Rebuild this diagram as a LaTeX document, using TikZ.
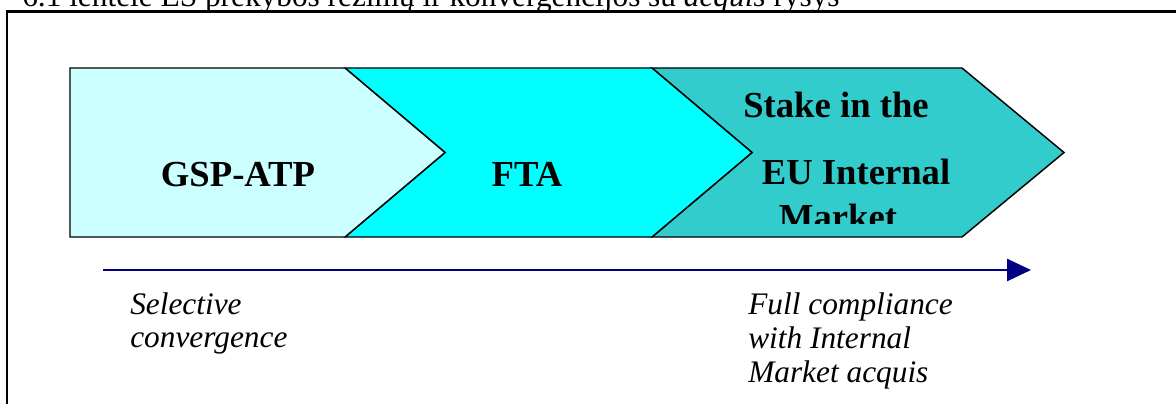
\documentclass[tikz,border=0pt]{standalone}
\usepackage{fontspec}
\setmainfont{Liberation Serif}
\usetikzlibrary{arrows.meta}
\definecolor{lightcy}{HTML}{CCFFFF}
\definecolor{brightcy}{HTML}{00FFFF}
\definecolor{tealcy}{HTML}{33CCCC}
\definecolor{navyarrow}{HTML}{000080}
\begin{document}
\begin{tikzpicture}[x=0.75pt,y=-0.75pt,
  chev/.style={draw=black, line width=1.1pt, line join=miter},
  boldlbl/.style={font=\fontsize{27.5}{30}\selectfont\bfseries, inner sep=0pt, anchor=base},
  itlbl/.style={font=\fontsize{23.5}{25.5}\selectfont\itshape, inner sep=0pt, anchor=base west},
  titlelbl/.style={font=\fontsize{23.5}{26}\selectfont, inner sep=0pt, anchor=base west},
  framestyle/.style={line width=2.2pt},
  progress/.style={draw=navyarrow, line width=2pt, -{Triangle[length=18pt,width=16.5pt]}}]
\useasboundingbox (0,0) rectangle (1176,403);
% caption cut off by the frame
\node[titlelbl] (title) at (22,7) {6.1 lentelė ES prekybos režimų ir konvergencijos su \textit{acquis} ryšys};
% frame
\draw[framestyle] (7,405) -- (7,11.5) -- (1180,11.5);
% chevrons
\path[chev, fill=tealcy] (652,68) -- (962,68) -- (1064,152.5) -- (962,237) -- (652,237) -- (752,152.5) -- cycle;
\path[chev, fill=brightcy] (345,68) -- (652,68) -- (752,152.5) -- (652,237) -- (345,237) -- (445,152.5) -- cycle;
\path[chev, fill=lightcy] (70,68) -- (345,68) -- (445,152.5) -- (345,237) -- (70,237) -- cycle;
% labels
\node[boldlbl] (gsp) at (238,186) {GSP-ATP};
\node[boldlbl] (fta) at (527,186) {FTA};
\begin{scope}
\clip (652,68) rectangle (1064,223);
\node[boldlbl] (stake) at (836,117) {Stake in the};
\node[boldlbl] (euint) at (856,184) {EU Internal};
\node[boldlbl] (market) at (838,229) {Market};
\end{scope}
% progress arrow
\coordinate (arrs) at (103,270);
\coordinate (arre) at (1031,270);
\draw[progress] (arrs) -- (arre);
% italic notes
\node[itlbl] (sel1) at (130,314) {Selective};
\node[itlbl] (sel2) at (130,347) {convergence};
\node[itlbl] (full1) at (748,314) {Full compliance};
\node[itlbl] (full2) at (748,348) {with Internal};
\node[itlbl] (full3) at (748,382) {Market acquis};
\end{tikzpicture}
\end{document}
